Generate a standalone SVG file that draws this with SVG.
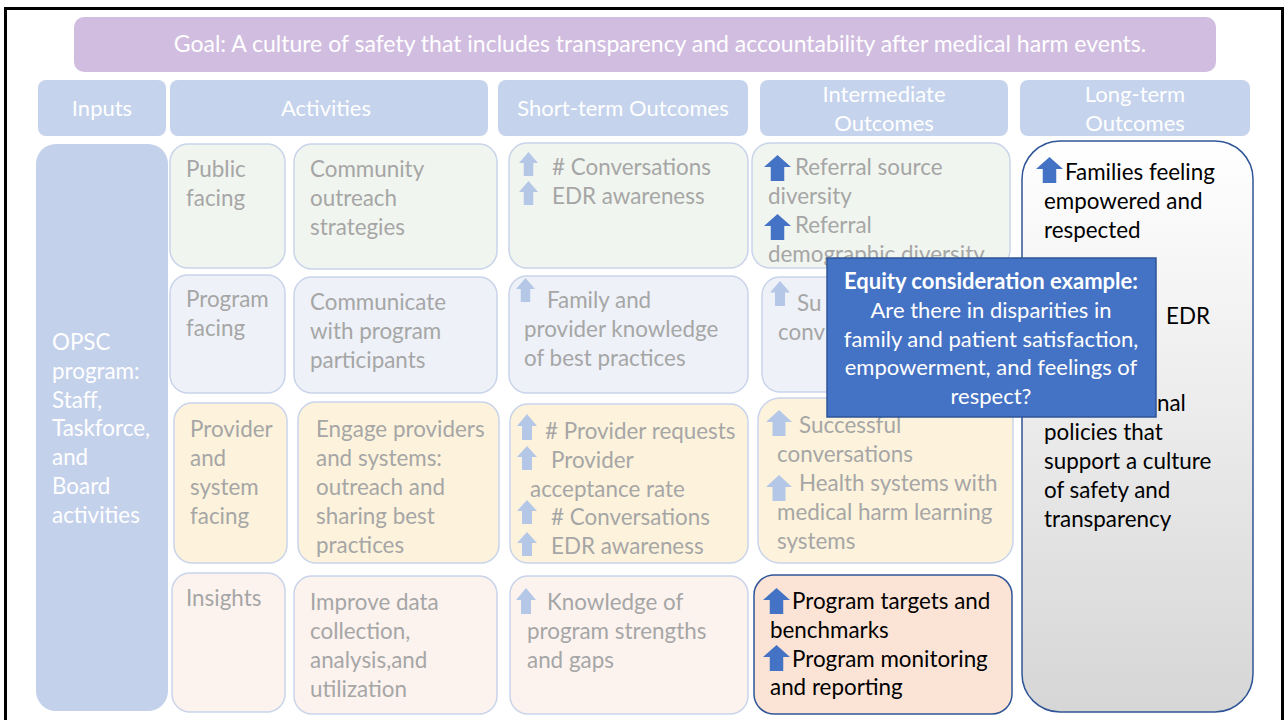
<svg xmlns="http://www.w3.org/2000/svg" width="1288" height="720" viewBox="0 0 1288 720">
<defs>
<style>
text{font-family:Lato,"Liberation Sans",sans-serif}
.hdr{fill:#c5d3ec}
.ht{fill:#ffffff;font-size:22px;text-anchor:middle}
.g{fill:#a6a6a6;font-size:22.4px}
.b{fill:#000000;font-size:22.4px}
.bx{stroke:#c9d4ea;stroke-width:1.5}
.r1{fill:#f1f5ef}.r2{fill:#eef2f8}.r3{fill:#fdf3dc}.r4{fill:#fcf3ef}
.ct{fill:#ffffff;font-size:22px;text-anchor:middle}
</style>
<symbol id="up" viewBox="0 0 20 24" preserveAspectRatio="none"><path d="M0 11 L10 0 L20 11 L15 11 L15 24 L5 24 L5 11 Z"/></symbol>
<linearGradient id="lg" x1="0" y1="0" x2="0" y2="1"><stop offset="0" stop-color="#ffffff"/><stop offset="1" stop-color="#d6d6d6"/></linearGradient>
</defs>
<rect x="0" y="0" width="1288" height="720" fill="#ffffff"/>
<rect x="5.5" y="8.5" width="1277" height="720" fill="none" stroke="#000" stroke-width="3"/>

<g id="goal"><rect x="74" y="17" width="1142" height="55" rx="10" fill="#d1bde0"/><text x="660" y="52" class="ht" style="font-size:23px">Goal: A culture of safety that includes transparency and accountability after medical harm events.</text></g>

<g id="h-inputs"><rect class="hdr" x="38" y="80" width="128" height="56" rx="8"/><text class="ht" x="102" y="116">Inputs</text></g>
<g id="h-activities"><rect class="hdr" x="170" y="80" width="318" height="56" rx="8"/><text class="ht" x="326" y="116">Activities</text></g>
<g id="h-short"><rect class="hdr" x="498" y="80" width="250" height="56" rx="8"/><text class="ht" x="623" y="116">Short-term Outcomes</text></g>
<g id="h-inter"><rect class="hdr" x="760" y="80" width="248" height="56" rx="8"/><text class="ht" x="884" y="102">Intermediate</text><text class="ht" x="884" y="131">Outcomes</text></g>
<g id="h-long"><rect class="hdr" x="1020" y="80" width="230" height="56" rx="8"/><text class="ht" x="1135" y="102">Long-term</text><text class="ht" x="1135" y="131">Outcomes</text></g>

<g id="inputs"><rect x="36" y="144" width="132" height="567" rx="20" fill="#c4d1eb"/>
<text x="52" y="350" style="fill:#fff;font-size:22.4px"><tspan x="52">OPSC</tspan><tspan x="52" dy="28.8">program:</tspan><tspan x="52" dy="28.8">Staff,</tspan><tspan x="52" dy="28.8">Taskforce,</tspan><tspan x="52" dy="28.8">and</tspan><tspan x="52" dy="28.8">Board</tspan><tspan x="52" dy="28.8">activities</tspan></text></g>

<!-- Row 1 -->
<g id="public"><rect class="bx r1" x="170" y="144" width="115" height="124" rx="18"/><text class="g" x="186" y="177"><tspan x="186">Public</tspan><tspan x="186" dy="29">facing</tspan></text></g>
<g id="community"><rect class="bx r1" x="294" y="144" width="203" height="125" rx="18"/><text class="g" x="310" y="177"><tspan x="310">Community</tspan><tspan x="310" dy="29">outreach</tspan><tspan x="310" dy="29">strategies</tspan></text></g>
<g id="st1"><rect class="bx r1" x="509" y="143" width="239" height="125" rx="18"/>
<use href="#up" x="519" y="152" width="19" height="24" fill="#b4c7e7"/><use href="#up" x="519" y="181" width="19" height="24" fill="#b4c7e7"/>
<text class="g" x="552" y="175"><tspan x="552">#&#160;Conversations</tspan><tspan x="552" dy="29">EDR awareness</tspan></text></g>
<g id="im1"><rect class="bx r1" x="752" y="143" width="258" height="125" rx="18"/>
<use href="#up" x="764" y="155" width="27" height="26" fill="#4472c4"/><use href="#up" x="764" y="214" width="27" height="26" fill="#4472c4"/>
<text class="g" x="795" y="175"><tspan x="795">Referral source</tspan><tspan x="768" dy="29">diversity</tspan><tspan x="795" dy="29">Referral</tspan><tspan x="768" dy="29">demographic diversity</tspan></text></g>

<!-- Row 2 -->
<g id="program"><rect class="bx r2" x="170" y="275" width="115" height="118" rx="18"/><text class="g" x="186" y="307"><tspan x="186">Program</tspan><tspan x="186" dy="29">facing</tspan></text></g>
<g id="communicate"><rect class="bx r2" x="294" y="277" width="203" height="116" rx="18"/><text class="g" x="310" y="310"><tspan x="310">Communicate</tspan><tspan x="310" dy="29">with program</tspan><tspan x="310" dy="29">participants</tspan></text></g>
<g id="st2"><rect class="bx r2" x="509" y="276" width="239" height="117" rx="18"/>
<use href="#up" x="516" y="278" width="19" height="24" fill="#b4c7e7"/>
<text class="g" x="547" y="308"><tspan x="547">Family and</tspan><tspan x="524" dy="29">provider knowledge</tspan><tspan x="524" dy="29">of best practices</tspan></text></g>
<g id="im2"><rect class="bx r2" x="762" y="277" width="240" height="115" rx="18"/>
<use href="#up" x="770" y="281" width="20" height="25" fill="#b4c7e7"/>
<text class="g" x="797" y="311"><tspan x="797">Su</tspan><tspan x="778" dy="29">conv</tspan></text></g>

<!-- Row 3 -->
<g id="provider"><rect class="bx r3" x="174" y="403" width="113" height="160" rx="18"/><text class="g" x="190" y="437"><tspan x="190">Provider</tspan><tspan x="190" dy="29">and</tspan><tspan x="190" dy="29">system</tspan><tspan x="190" dy="29">facing</tspan></text></g>
<g id="engage"><rect class="bx r3" x="298" y="402" width="201" height="161" rx="18"/><text class="g" x="316" y="437"><tspan x="316">Engage providers</tspan><tspan x="316" dy="29">and systems:</tspan><tspan x="316" dy="29">outreach and</tspan><tspan x="316" dy="29">sharing best</tspan><tspan x="316" dy="29">practices</tspan></text></g>
<g id="st3"><rect class="bx r3" x="510" y="404" width="238" height="159" rx="18"/>
<use href="#up" x="517" y="414" width="20" height="26" fill="#b4c7e7"/><use href="#up" x="517" y="446" width="20" height="24" fill="#b4c7e7"/><use href="#up" x="517" y="500" width="20" height="24" fill="#b4c7e7"/><use href="#up" x="517" y="532" width="20" height="24" fill="#b4c7e7"/>
<text class="g" x="545" y="439"><tspan x="545">#&#160;Provider requests</tspan><tspan x="551" dy="29">Provider</tspan><tspan x="530" dy="29">acceptance rate</tspan><tspan x="551" dy="28">#&#160;Conversations</tspan><tspan x="551" dy="29">EDR awareness</tspan></text></g>
<g id="im3"><rect class="bx r3" x="758" y="398" width="255" height="165" rx="22"/>
<use href="#up" x="766" y="410" width="26" height="26" fill="#b4c7e7"/><use href="#up" x="766" y="475" width="26" height="26" fill="#b4c7e7"/>
<text class="g" x="799" y="433"><tspan x="799">Successful</tspan><tspan x="777" dy="29">conversations</tspan><tspan x="799" dy="29">Health systems with</tspan><tspan x="777" dy="29">medical harm learning</tspan><tspan x="777" dy="29">systems</tspan></text></g>

<!-- Row 4 -->
<g id="insights"><rect class="bx r4" x="172" y="573" width="113" height="139" rx="18"/><text class="g" x="186" y="606">Insights</text></g>
<g id="improve"><rect class="bx r4" x="294" y="576" width="203" height="138" rx="18"/><text class="g" x="310" y="610"><tspan x="310">Improve data</tspan><tspan x="310" dy="29">collection,</tspan><tspan x="310" dy="29">analysis,and</tspan><tspan x="310" dy="29">utilization</tspan></text></g>
<g id="st4"><rect class="bx r4" x="510" y="576" width="238" height="138" rx="18"/>
<use href="#up" x="516" y="588" width="20" height="26" fill="#b4c7e7"/>
<text class="g" x="547" y="610"><tspan x="547">Knowledge of</tspan><tspan x="527" dy="29">program strengths</tspan><tspan x="527" dy="29">and gaps</tspan></text></g>
<g id="im4"><rect x="754" y="575" width="258" height="139" rx="20" fill="#fbe4d6" stroke="#2f5597" stroke-width="1.5"/>
<use href="#up" x="763" y="588" width="27" height="26" fill="#4472c4"/><use href="#up" x="763" y="645" width="27" height="26" fill="#4472c4"/>
<text class="b" x="792" y="609"><tspan x="792">Program targets and</tspan><tspan x="770" dy="29">benchmarks</tspan><tspan x="792" dy="29">Program monitoring</tspan><tspan x="770" dy="28">and reporting</tspan></text></g>

<!-- Long-term -->
<g id="long"><rect x="1022" y="141" width="231" height="571" rx="38" fill="url(#lg)" stroke="#2f5597" stroke-width="1.5"/>
<use href="#up" x="1036" y="157" width="27" height="26" fill="#4472c4"/>
<text class="b" x="1065" y="180"><tspan x="1065">Families feeling</tspan><tspan x="1044" dy="29">empowered and</tspan><tspan x="1044" dy="29">respected</tspan></text>
<text class="b" x="1166" y="324">EDR</text>
<text class="b" x="1044" y="411"><tspan x="1157">nal</tspan><tspan x="1044" dy="29">policies that</tspan><tspan x="1044" dy="29">support a culture</tspan><tspan x="1044" dy="29">of safety and</tspan><tspan x="1044" dy="29">transparency</tspan></text></g>

<!-- Callout -->
<g id="equity"><rect x="827" y="258" width="329" height="159" fill="#4472c4" stroke="#2f5597" stroke-width="1.5"/>
<text class="ct" x="991" y="289" font-weight="bold">Equity consideration example:</text>
<text class="ct" x="991" y="318"><tspan x="991">Are there in disparities in</tspan><tspan x="991" dy="28.5">family and patient satisfaction,</tspan><tspan x="991" dy="28.5">empowerment, and feelings of</tspan><tspan x="991" dy="28.5">respect?</tspan></text></g>
</svg>
